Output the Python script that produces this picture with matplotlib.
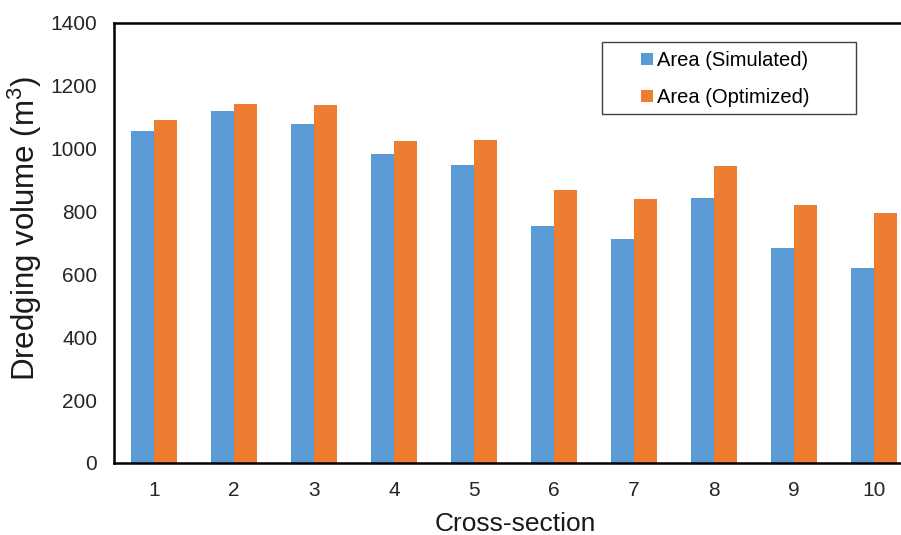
import numpy as np
import matplotlib
matplotlib.use('Agg')
import matplotlib.pyplot as plt
from matplotlib.patches import Rectangle

plt.rcParams['font.family'] = ['Liberation Sans', 'DejaVu Sans']
plt.rcParams['mathtext.fontset'] = 'custom'
plt.rcParams['mathtext.rm'] = 'Liberation Sans'
plt.rcParams['mathtext.it'] = 'Liberation Sans:italic'

# Dados
secoes = ['1', '2', '3', '4', '5', '6', '7', '8', '9', '10']
area_simulada = [1056, 1120, 1080, 982, 948, 754, 712, 843, 683, 619]
area_otimizada = [1090, 1142, 1139, 1025, 1028, 870, 840, 946, 820, 794]

cor_azul = '#5B9BD5'
cor_laranja = '#ED7D31'

W, H = 901, 535
fig = plt.figure(figsize=(W / 100, H / 100), dpi=100)
# eixo vai além da borda direita (como no original, cortado)
ax = fig.add_axes([114 / W, 1 - 463 / H, 800 / W, 440 / H])

x = np.arange(1, len(secoes) + 1)
largura = 0.2875
ax.bar(x - largura / 2, area_simulada, largura, color=cor_azul, label='Area (Simulated)')
ax.bar(x + largura / 2, area_otimizada, largura, color=cor_laranja, label='Area (Optimized)')

ax.set_xlim(0.5, 10.5)
ax.set_ylim(0, 1400)
ax.set_yticks(range(0, 1401, 200))
ax.set_xticks(x)
ax.set_xticklabels(secoes)
ax.tick_params(axis='both', length=0, labelsize=15, labelcolor='#262626')
ax.tick_params(axis='y', pad=12)
ax.tick_params(axis='x', pad=13)

for lado in ['left', 'bottom', 'top', 'right']:
    ax.spines[lado].set_linewidth(1.8)
    ax.spines[lado].set_color('black')

fig.text(515 / W, 1 - 524 / H, 'Cross-section', fontsize=19,
         ha='center', va='center', color='#1a1a1a')
fig.text(25 / W, 1 - 228 / H, 'Dredging volume (m$^3$)', fontsize=22.5,
         rotation=90, ha='center', va='center', color='#1a1a1a')

# caixa da legenda
caixa = Rectangle((602 / W, 1 - 114 / H), 254 / W, 72 / H, transform=fig.transFigure,
                  facecolor='white', edgecolor='#404040', linewidth=1.0, zorder=4)
ax.add_patch(caixa)
caixa.set_clip_on(False)

leg = ax.legend(loc='upper left', bbox_to_anchor=(641 / W, 1 - 51 / H),
                bbox_transform=fig.transFigure, fontsize=14.5, frameon=False,
                handlelength=0.6, handleheight=0.6, handletextpad=0.2,
                borderpad=0, labelspacing=0.9, borderaxespad=0)
leg.set_zorder(6)

plt.savefig('out.png', dpi=100)
